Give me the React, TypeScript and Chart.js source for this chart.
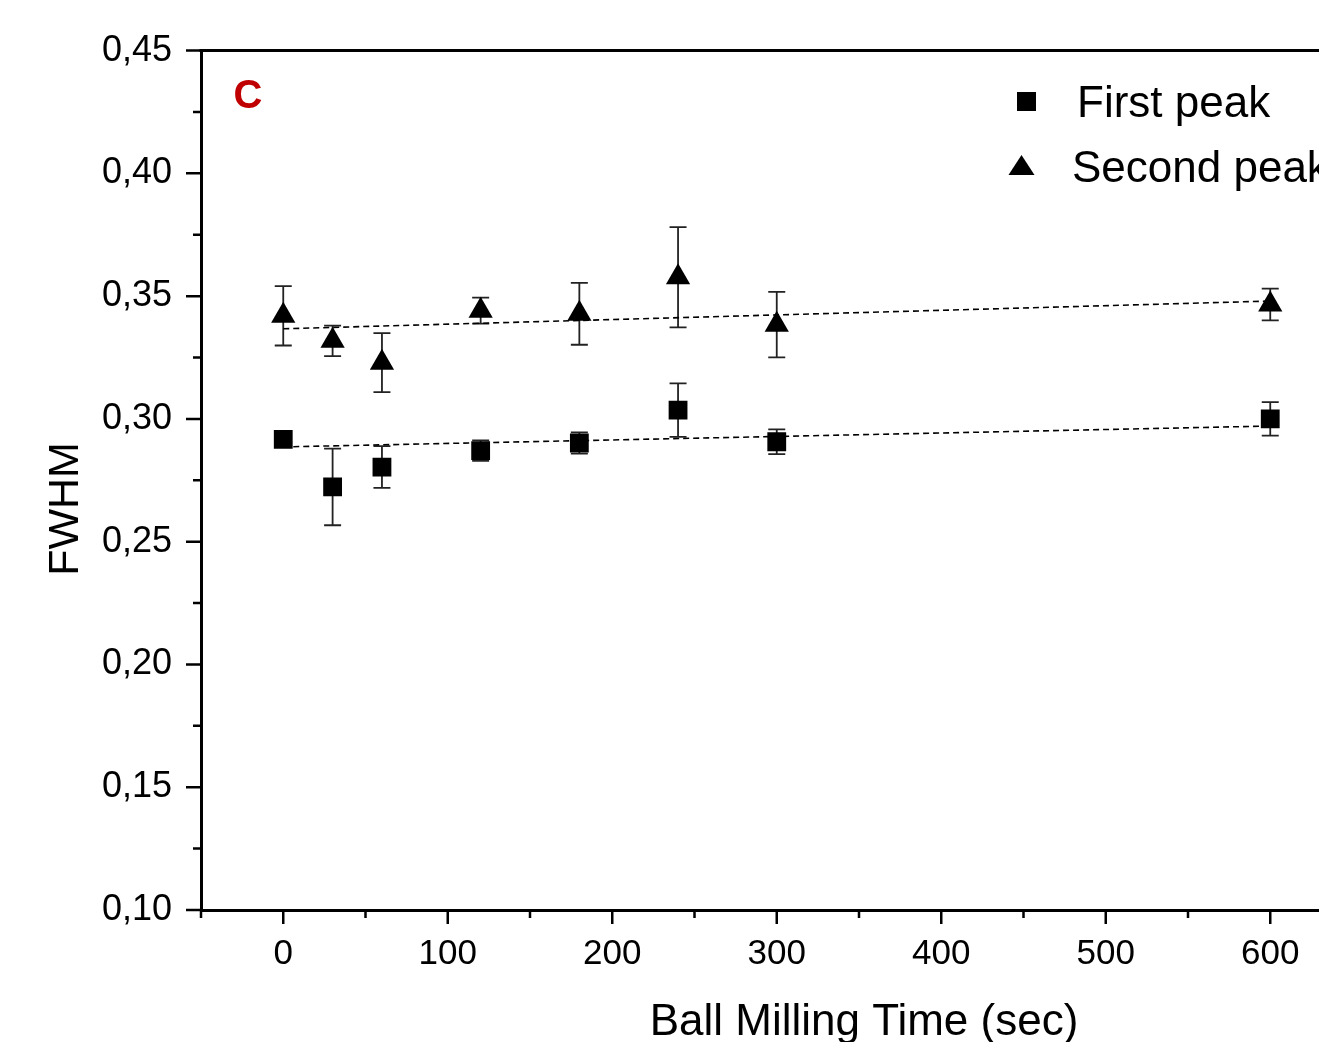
import { useEffect, useRef } from "react";
import { Chart, registerables } from "chart.js";

Chart.register(...registerables);

// Ball milling time (sec)
const millingTime = [0, 30, 60, 120, 180, 240, 300, 600];

// FWHM of the first peak with its standard deviation
const firstPeak = [0.2917, 0.2723, 0.2804, 0.2871, 0.2902, 0.3036, 0.2907, 0.3];
const firstPeakErr = [0, 0.0156, 0.0085, 0.0042, 0.0043, 0.0109, 0.005, 0.0068];

// FWHM of the second peak with its standard deviation
const secondPeak = [0.342, 0.3318, 0.3229, 0.3441, 0.3428, 0.3577, 0.3384, 0.3466];
const secondPeakErr = [0.0121, 0.0062, 0.012, 0.0053, 0.0126, 0.0204, 0.0133, 0.0065];

// Linear fits (end points)
const fitTime = [0, 600];
const firstFit = [0.2886, 0.2971];
const secondFit = [0.3367, 0.348];

// Axis ticks
const xTicks = [0, 100, 200, 300, 400, 500, 600, 700];
const yTicks = [0.1, 0.15, 0.2, 0.25, 0.3, 0.35, 0.4, 0.45];

const legendLabels = ["First peak", "Second peak"];
const panelLetter = "C";
const xTitle = "Ball Milling Time (sec)";
const yTitle = "FWHM";

const FONT = "'Liberation Sans', Arial, Helvetica, sans-serif";
const CANVAS_W = 1560;
const CANVAS_H = 1042;

const decorations = {
  id: "decorations",
  beforeDatasetsDraw(chart: any) {
    const { ctx } = chart;
    const xs = chart.scales.x;
    const ys = chart.scales.y;
    ctx.save();
    ctx.strokeStyle = "#222";
    ctx.lineWidth = 1.8;
    const cap = 8.5;
    const sets = [
      { vals: firstPeak, errs: firstPeakErr },
      { vals: secondPeak, errs: secondPeakErr },
    ];
    for (const s of sets) {
      millingTime.forEach((t, i) => {
        const e = s.errs[i];
        if (!e) return;
        const px = xs.getPixelForValue(t);
        const top = ys.getPixelForValue(s.vals[i] + e);
        const bot = ys.getPixelForValue(s.vals[i] - e);
        ctx.beginPath();
        ctx.moveTo(px, top);
        ctx.lineTo(px, bot);
        ctx.moveTo(px - cap, top);
        ctx.lineTo(px + cap, top);
        ctx.moveTo(px - cap, bot);
        ctx.lineTo(px + cap, bot);
        ctx.stroke();
      });
    }
    ctx.restore();
  },
  afterDraw(chart: any) {
    const { ctx, chartArea } = chart;
    const xs = chart.scales.x;
    const ys = chart.scales.y;
    const { left, right, top, bottom } = chartArea;
    ctx.save();

    // frame (top and right)
    ctx.strokeStyle = "#000";
    ctx.lineWidth = 3;
    ctx.beginPath();
    ctx.moveTo(left - 1.5, top);
    ctx.lineTo(right, top);
    ctx.lineTo(right, bottom);
    ctx.stroke();

    // major and minor tick marks, pointing outward
    ctx.lineWidth = 2.5;
    ctx.beginPath();
    for (let v = xs.min; v <= xs.max + 1e-9; v += 50) {
      const px = xs.getPixelForValue(v);
      const len = Math.abs(v % 100) < 1e-6 ? 14 : 8;
      ctx.moveTo(px, bottom);
      ctx.lineTo(px, bottom + len);
    }
    for (let k = 0; k <= 14; k++) {
      const v = ys.min + k * 0.025;
      const py = ys.getPixelForValue(v);
      const len = k % 2 === 0 ? 15 : 8;
      ctx.moveTo(left, py);
      ctx.lineTo(left - len, py);
    }
    ctx.stroke();

    // axis titles
    ctx.fillStyle = "#000";
    ctx.font = `44px ${FONT}`;
    ctx.textAlign = "center";
    ctx.textBaseline = "alphabetic";
    ctx.fillText(xTitle, (left + right) / 2 + 5, 1035);

    ctx.save();
    ctx.translate(78, 509);
    ctx.rotate(-Math.PI / 2);
    ctx.font = `43px ${FONT}`;
    ctx.fillText(yTitle, 0, 0);
    ctx.restore();

    // panel letter
    ctx.fillStyle = "#c00000";
    ctx.font = `bold 40px ${FONT}`;
    ctx.textAlign = "center";
    ctx.textBaseline = "middle";
    ctx.fillText(panelLetter, 248, 97);

    // legend
    ctx.fillStyle = "#000";
    ctx.fillRect(1017, 92, 19, 19);
    ctx.beginPath();
    ctx.moveTo(1021.5, 155);
    ctx.lineTo(1034.5, 175);
    ctx.lineTo(1008.5, 175);
    ctx.closePath();
    ctx.fill();
    ctx.font = `44px ${FONT}`;
    ctx.textAlign = "left";
    ctx.textBaseline = "alphabetic";
    ctx.fillText(legendLabels[0], 1077, 117);
    ctx.fillText(legendLabels[1], 1072, 182);

    ctx.restore();
  },
};

export default function App() {
  const canvasRef = useRef<HTMLCanvasElement | null>(null);

  useEffect(() => {
    if (!canvasRef.current) return;
    const chart = new Chart(canvasRef.current, {
      type: "scatter",
      data: {
        datasets: [
          {
            label: legendLabels[0],
            data: millingTime.map((t, i) => ({ x: t, y: firstPeak[i] })),
            pointStyle: "rect",
            pointRadius: 13.3,
            pointHoverRadius: 13.3,
            backgroundColor: "#000",
            borderColor: "#000",
            borderWidth: 0,
            order: 0,
          },
          {
            label: legendLabels[1],
            data: millingTime.map((t, i) => ({ x: t, y: secondPeak[i] })),
            pointStyle: "triangle",
            pointRadius: 14,
            pointHoverRadius: 14,
            backgroundColor: "#000",
            borderColor: "#000",
            borderWidth: 0,
            order: 0,
          },
          {
            type: "line",
            label: "fit1",
            data: fitTime.map((t, i) => ({ x: t, y: firstFit[i] })),
            borderColor: "#000",
            borderWidth: 1.6,
            borderDash: [6, 4],
            pointRadius: 0,
            fill: false,
            order: 1,
          },
          {
            type: "line",
            label: "fit2",
            data: fitTime.map((t, i) => ({ x: t, y: secondFit[i] })),
            borderColor: "#000",
            borderWidth: 1.6,
            borderDash: [6, 4],
            pointRadius: 0,
            fill: false,
            order: 1,
          },
        ] as any,
      },
      options: {
        responsive: false,
        animation: false,
        events: [],
        layout: { padding: { top: 50, right: 43, left: 0, bottom: 0 } },
        plugins: {
          legend: { display: false },
          tooltip: { enabled: false },
          title: { display: false },
        },
        scales: {
          x: {
            type: "linear",
            min: -50,
            max: 750,
            afterFit: (s: any) => {
              s.height = 132;
            },
            afterBuildTicks: (s: any) => {
              s.ticks = xTicks.map((v) => ({ value: v }));
            },
            ticks: {
              color: "#000",
              padding: 23,
              font: { family: FONT, size: 35 },
              callback: (v: any) => String(v),
            },
            grid: { display: true, drawOnChartArea: false, drawTicks: false },
            border: { display: true, color: "#000", width: 3 },
          },
          y: {
            type: "linear",
            min: 0.1,
            max: 0.45,
            afterFit: (s: any) => {
              s.width = 201;
            },
            afterBuildTicks: (s: any) => {
              s.ticks = yTicks.map((v) => ({ value: v }));
            },
            ticks: {
              color: "#000",
              padding: 29,
              font: { family: FONT, size: 36 },
              callback: (v: any) => Number(v).toFixed(2).replace(".", ","),
            },
            grid: { display: true, drawOnChartArea: false, drawTicks: false },
            border: { display: true, color: "#000", width: 3 },
          },
        },
      } as any,
      plugins: [decorations],
    });
    return () => chart.destroy();
  }, []);

  return (
    <div
      style={{
        position: "fixed",
        left: 0,
        top: 0,
        width: 1319,
        height: 1042,
        overflow: "hidden",
        background: "#fff",
      }}
    >
      <canvas
        ref={canvasRef}
        width={CANVAS_W}
        height={CANVAS_H}
        style={{ display: "block", width: CANVAS_W, height: CANVAS_H }}
      />
    </div>
  );
}
